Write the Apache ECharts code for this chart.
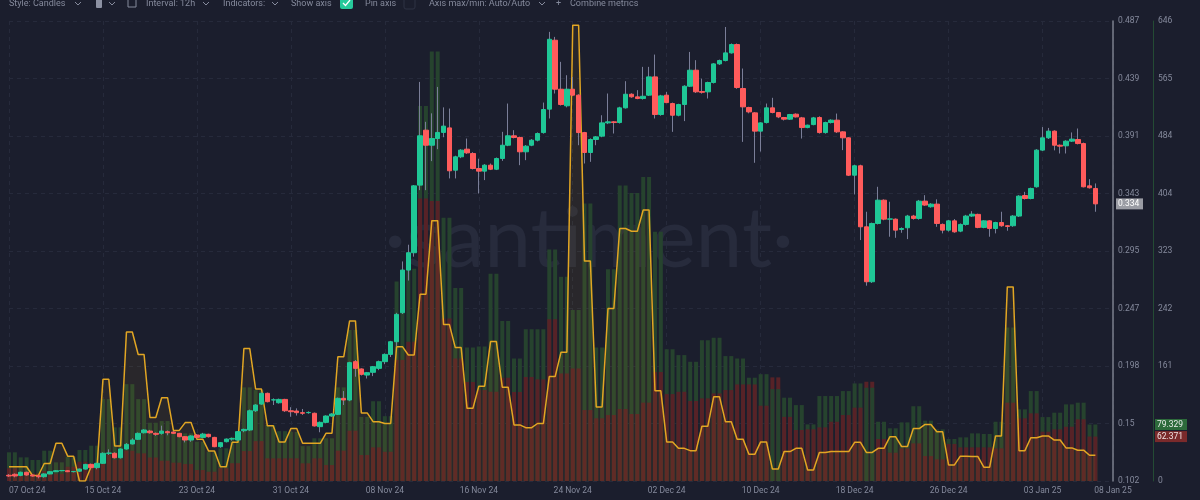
<!DOCTYPE html>
<html>
<head>
<meta charset="utf-8">
<title>Candles 12h</title>
<script src="https://cdn.jsdelivr.net/npm/echarts@6.0.0/dist/echarts.min.js"></script>
<style>
  html, body { margin: 0; padding: 0; background: #1b1e2d; }
  #chart { width: 1200px; height: 500px; }
</style>
</head>
<body>
<div id="chart"></div>
<script>
// x axis: 12h slots starting 07 Oct 24 00:00, ticks every 8 days
const slotCount = 189;
const tickIdx = [0, 16, 32, 48, 64, 80, 96, 112, 128, 144, 160, 176, 188];
const tickText = ['07 Oct 24', '15 Oct 24', '23 Oct 24', '31 Oct 24', '08 Nov 24', '16 Nov 24',
  '24 Nov 24', '02 Dec 24', '10 Dec 24', '18 Dec 24', '26 Dec 24', '03 Jan 25', '08 Jan 25'];

// price candles, one per 12h
const open = [
  0.1070, 0.1078, 0.1069, 0.1095, 0.1072, 0.1066, 0.1058, 0.1081, 0.1100, 0.1108,
  0.1108, 0.1100, 0.1104, 0.1122, 0.1161, 0.1134, 0.1170, 0.1254, 0.1254, 0.1217,
  0.1290, 0.1332, 0.1371, 0.1426, 0.1440, 0.1421, 0.1421, 0.1435, 0.1432, 0.1421,
  0.1393, 0.1365, 0.1407, 0.1387, 0.1413, 0.1387, 0.1309, 0.1351, 0.1373, 0.1365,
  0.1443, 0.1449, 0.1610, 0.1666, 0.1756, 0.1700, 0.1677, 0.1705, 0.1610, 0.1608,
  0.1594, 0.1594, 0.1589, 0.1477, 0.1513, 0.1566, 0.1580, 0.1714, 0.1700, 0.2021,
  0.1960, 0.1909, 0.1932, 0.1965, 0.2021, 0.2082, 0.2188, 0.2431, 0.2788, 0.2933,
  0.3499, 0.3959, 0.3833, 0.3889, 0.3940, 0.3978, 0.3624, 0.3736, 0.3800, 0.3764,
  0.3638, 0.3616, 0.3666, 0.3632, 0.3722, 0.3833, 0.3912, 0.3898, 0.3778, 0.3833,
  0.3875, 0.3939, 0.4135, 0.4712, 0.4302, 0.4163, 0.4302, 0.4252, 0.3939, 0.3772,
  0.3881, 0.3909, 0.4020, 0.4029, 0.4023, 0.4146, 0.4260, 0.4238, 0.4224, 0.4252,
  0.4405, 0.4090, 0.4252, 0.4182, 0.4084, 0.4174, 0.4327, 0.4461, 0.4283, 0.4280,
  0.4358, 0.4514, 0.4542, 0.4606, 0.4676, 0.4308, 0.4149, 0.4104, 0.3951, 0.4023,
  0.4146, 0.4107, 0.4065, 0.4051, 0.4093, 0.4062, 0.3981, 0.4006, 0.4065, 0.3939,
  0.4023, 0.4043, 0.3945, 0.3895, 0.3582, 0.3661, 0.3150, 0.2690, 0.3178, 0.3373,
  0.3214, 0.3214, 0.3128, 0.3142, 0.3240, 0.3220, 0.3365, 0.3318, 0.3340, 0.3170,
  0.3122, 0.3200, 0.3114, 0.3170, 0.3240, 0.3254, 0.3145, 0.3200, 0.3136, 0.3186,
  0.3159, 0.3159, 0.3240, 0.3412, 0.3387, 0.3485, 0.3792, 0.3895, 0.3951, 0.3833,
  0.3828, 0.3867, 0.3881, 0.3847, 0.3493, 0.3471
];
const close = [
  0.1064, 0.1064, 0.1095, 0.1072, 0.1064, 0.1058, 0.1081, 0.1100, 0.1108, 0.1110,
  0.1100, 0.1102, 0.1122, 0.1161, 0.1134, 0.1170, 0.1254, 0.1256, 0.1217, 0.1290,
  0.1329, 0.1365, 0.1421, 0.1449, 0.1426, 0.1413, 0.1440, 0.1426, 0.1421, 0.1393,
  0.1365, 0.1399, 0.1387, 0.1415, 0.1393, 0.1309, 0.1343, 0.1373, 0.1377, 0.1435,
  0.1454, 0.1610, 0.1658, 0.1756, 0.1686, 0.1702, 0.1705, 0.1610, 0.1602, 0.1594,
  0.1589, 0.1596, 0.1483, 0.1513, 0.1566, 0.1583, 0.1714, 0.1700, 0.2013, 0.1965,
  0.1915, 0.1929, 0.1979, 0.2021, 0.2082, 0.2188, 0.2417, 0.2788, 0.2933, 0.3493,
  0.3912, 0.3833, 0.3889, 0.3940, 0.3993, 0.3619, 0.3736, 0.3792, 0.3769, 0.3638,
  0.3616, 0.3666, 0.3632, 0.3722, 0.3833, 0.3912, 0.3898, 0.3778, 0.3825, 0.3875,
  0.3931, 0.4132, 0.4720, 0.4302, 0.4174, 0.4302, 0.4252, 0.3939, 0.3772, 0.3881,
  0.3903, 0.4020, 0.4029, 0.4023, 0.4146, 0.4260, 0.4238, 0.4224, 0.4243, 0.4405,
  0.4090, 0.4246, 0.4190, 0.4084, 0.4174, 0.4327, 0.4461, 0.4280, 0.4276, 0.4358,
  0.4514, 0.4542, 0.4606, 0.4676, 0.4316, 0.4154, 0.4112, 0.3951, 0.4020, 0.4146,
  0.4107, 0.4070, 0.4051, 0.4090, 0.4070, 0.3981, 0.4001, 0.4062, 0.3939, 0.4023,
  0.4043, 0.3945, 0.3895, 0.3582, 0.3661, 0.3150, 0.2690, 0.3178, 0.3373, 0.3214,
  0.3216, 0.3122, 0.3136, 0.3240, 0.3220, 0.3365, 0.3332, 0.3340, 0.3178, 0.3122,
  0.3200, 0.3108, 0.3170, 0.3240, 0.3256, 0.3145, 0.3200, 0.3136, 0.3186, 0.3159,
  0.3153, 0.3240, 0.3407, 0.3387, 0.3471, 0.3792, 0.3895, 0.3951, 0.3833, 0.3825,
  0.3867, 0.3884, 0.3847, 0.3485, 0.3477, 0.3342
];
const low = [
  0.1055, 0.1053, 0.1062, 0.1066, 0.1058, 0.1044, 0.1050, 0.1078, 0.1097, 0.1104,
  0.1096, 0.1094, 0.1098, 0.1118, 0.1128, 0.1120, 0.1165, 0.1240, 0.1210, 0.1210,
  0.1285, 0.1328, 0.1365, 0.1420, 0.1418, 0.1400, 0.1410, 0.1405, 0.1415, 0.1388,
  0.1345, 0.1350, 0.1380, 0.1380, 0.1385, 0.1305, 0.1300, 0.1345, 0.1360, 0.1360,
  0.1430, 0.1440, 0.1600, 0.1660, 0.1680, 0.1658, 0.1670, 0.1600, 0.1560, 0.1570,
  0.1575, 0.1585, 0.1478, 0.1430, 0.1505, 0.1560, 0.1575, 0.1658, 0.1690, 0.1895,
  0.1905, 0.1880, 0.1900, 0.1950, 0.2000, 0.2060, 0.2150, 0.2420, 0.2700, 0.2900,
  0.3457, 0.3457, 0.3700, 0.3800, 0.3900, 0.3555, 0.3555, 0.3725, 0.3760, 0.3630,
  0.3429, 0.3541, 0.3625, 0.3625, 0.3702, 0.3825, 0.3890, 0.3666, 0.3708, 0.3825,
  0.3865, 0.3930, 0.4057, 0.4266, 0.4165, 0.4150, 0.4245, 0.3833, 0.3680, 0.3694,
  0.3833, 0.3900, 0.4010, 0.3931, 0.4015, 0.4140, 0.4230, 0.4218, 0.4215, 0.4245,
  0.4057, 0.4080, 0.4185, 0.3945, 0.4075, 0.4035, 0.4320, 0.4270, 0.4265, 0.4224,
  0.4350, 0.4505, 0.4535, 0.4600, 0.4305, 0.3861, 0.4100, 0.3686, 0.3780, 0.4015,
  0.4100, 0.4060, 0.4040, 0.4045, 0.4065, 0.3889, 0.3975, 0.4000, 0.3930, 0.3930,
  0.4015, 0.3935, 0.3792, 0.3575, 0.3421, 0.3039, 0.2657, 0.2680, 0.3170, 0.3205,
  0.3067, 0.3058, 0.3100, 0.3047, 0.3210, 0.3210, 0.3325, 0.3310, 0.3150, 0.3095,
  0.3110, 0.3100, 0.3105, 0.3160, 0.3232, 0.3138, 0.3138, 0.3067, 0.3095, 0.3150,
  0.3117, 0.3150, 0.3232, 0.3378, 0.3380, 0.3478, 0.3785, 0.3885, 0.3790, 0.3764,
  0.3764, 0.3860, 0.3840, 0.3480, 0.3470, 0.3276
];
const high = [
  0.1080, 0.1086, 0.1100, 0.1100, 0.1078, 0.1070, 0.1086, 0.1104, 0.1112, 0.1114,
  0.1112, 0.1106, 0.1126, 0.1166, 0.1168, 0.1175, 0.1262, 0.1287, 0.1262, 0.1295,
  0.1340, 0.1380, 0.1428, 0.1456, 0.1450, 0.1428, 0.1485, 0.1445, 0.1440, 0.1425,
  0.1398, 0.1405, 0.1415, 0.1425, 0.1418, 0.1392, 0.1348, 0.1378, 0.1385, 0.1440,
  0.1460, 0.1620, 0.1665, 0.1765, 0.1762, 0.1714, 0.1712, 0.1710, 0.1640, 0.1630,
  0.1625, 0.1605, 0.1595, 0.1520, 0.1572, 0.1590, 0.1720, 0.1775, 0.2020, 0.2035,
  0.1965, 0.1935, 0.1985, 0.2030, 0.2090, 0.2195, 0.2430, 0.2860, 0.3000, 0.3500,
  0.4363, 0.4029, 0.4100, 0.4321, 0.4150, 0.4140, 0.3745, 0.3800, 0.3889, 0.3775,
  0.3720, 0.3675, 0.3680, 0.3730, 0.3945, 0.4182, 0.3959, 0.3905, 0.3835, 0.3885,
  0.3940, 0.4190, 0.4782, 0.4740, 0.4531, 0.4419, 0.4405, 0.4260, 0.3945, 0.3890,
  0.3910, 0.4084, 0.4266, 0.4035, 0.4155, 0.4369, 0.4268, 0.4294, 0.4489, 0.4489,
  0.4592, 0.4255, 0.4280, 0.4190, 0.4180, 0.4335, 0.4614, 0.4545, 0.4391, 0.4365,
  0.4520, 0.4550, 0.4823, 0.4685, 0.4685, 0.4475, 0.4155, 0.4110, 0.4025, 0.4182,
  0.4230, 0.4110, 0.4070, 0.4095, 0.4100, 0.4070, 0.4005, 0.4070, 0.4075, 0.4030,
  0.4050, 0.4098, 0.3950, 0.3900, 0.3670, 0.3670, 0.3276, 0.3185, 0.3485, 0.3380,
  0.3360, 0.3220, 0.3145, 0.3250, 0.3250, 0.3375, 0.3415, 0.3348, 0.3380, 0.3178,
  0.3208, 0.3215, 0.3178, 0.3250, 0.3281, 0.3260, 0.3205, 0.3205, 0.3192, 0.3276,
  0.3165, 0.3248, 0.3415, 0.3443, 0.3478, 0.3800, 0.3985, 0.3978, 0.3958, 0.3840,
  0.3875, 0.3940, 0.3973, 0.3855, 0.3549, 0.3513
];

// daily metrics (each day fills two 12h slots)
const greenVol = [
  40.3, 33.2, 29.5, 42.6, 26.2, 34.1, 43.5, 49.6, 115, 75.3,
  136, 115, 81.8, 84.2, 67.8, 66.9, 55.2, 41.2, 45.9, 62,
  131.5, 127.7, 78.6, 70, 69, 49, 60, 60, 131.5, 212,
  90, 112, 91, 280, 298, 526.6, 603, 369.5, 271, 187.6,
  189, 291, 224.5, 172, 213, 213, 325, 286.7, 240, 389.6,
  187.6, 297.5, 415, 404.5, 427, 350, 185, 176.8, 167.4, 197.8,
  201, 175.4, 172, 145, 150, 129, 117, 106.6, 79.5, 119.3,
  119.3, 126.3, 137, 131, 83.2, 74, 82.3, 105, 84.7, 72.5,
  59, 61.3, 66.9, 66, 83.2, 215.6, 100.6, 126.3, 89.8, 95.9,
  107.6, 110, 79.329
];
const redVol = [
  17.8, 7, 10.8, 14, 10, 20, 27, 25, 36.5, 30,
  42.5, 38.8, 33, 28.5, 25.7, 23.8, 15.4, 13, 18, 25,
  42, 56, 31.8, 31.8, 31.8, 24.8, 31.8, 22.4, 42.6, 70.6,
  36.5, 47.2, 41, 170, 195.5, 396.7, 393, 228, 172, 139,
  127.7, 125.3, 145, 125, 146, 142.7, 227, 151, 158, 99.6,
  88, 92.6, 101, 94, 110, 153, 122, 125.3, 112.3, 116,
  123, 127.7, 135.6, 135.6, 105.7, 145.5, 90, 71.6, 72.5, 75.3,
  83.2, 92.6, 103, 139.4, 59, 39.7, 45.8, 52.8, 35, 30.4,
  52, 47.2, 47.2, 47.2, 45.8, 110, 88, 95, 69.2, 72.5,
  76.2, 86.6, 62.371
];
// third metric, hidden scale 0..100
const yellowLine = [
  3.1, 3.1, 1.2, 3.8, 8.2, 5.4, 0, 3.2, 22.1, 7.6,
  32.4, 27.5, 13.8, 18.1, 11, 12.7, 9.1, 6.5, 3.1, 8.4,
  28.8, 20, 12, 8.5, 11.4, 8.2, 8.2, 10.4, 27, 34.8,
  14.8, 12.9, 12.5, 29.2, 27.4, 40.6, 56.6, 34, 29, 15.8,
  20.6, 30.3, 20.4, 12.2, 11.6, 12.5, 22.7, 28, 99.1, 47.8,
  16.1, 37.5, 54.9, 54.3, 58.9, 19.6, 8.5, 7.1, 6.6, 11.9,
  18.3, 12.9, 9.1, 5.8, 8.5, 2.6, 6.4, 7.1, 2.4, 6.2,
  6.4, 6.4, 8.4, 6.2, 7.1, 9.6, 7.5, 11.4, 12.3, 10.7,
  3.5, 5.4, 5.3, 3, 9.8, 42.2, 6.6, 9.4, 9.8, 8.9,
  7.2, 6.7, 5.6
];

const UP = '#1fc796';
const DOWN = '#ff5b5b';
const WICK = '#7a7e98';
const BAR_G = '#26432e';
const BAR_R = '#572227';
const TXT = '#858a9c';
const FONT = 'Roboto, "Open Sans", sans-serif';

const priceMin = 0.1022, priceMax = 0.4873;
const volMax = 645.9;

let cats = [];
for (let i = 0; i < slotCount; i++) cats.push(String(i));

// bars: the taller of the two sits behind, the shorter in front
let backBars = [], frontBars = [], yellowSlots = [], wicks = [], bodies = [];
for (let i = 0; i < open.length; i++) {
  let d = i >> 1;
  let g = greenVol[d], r = redVol[d];
  if (g >= r) {
    backBars.push({ value: g, itemStyle: { color: BAR_G } });
    frontBars.push({ value: r, itemStyle: { color: BAR_R } });
  } else {
    backBars.push({ value: r, itemStyle: { color: BAR_R } });
    frontBars.push({ value: g, itemStyle: { color: BAR_G } });
  }
  yellowSlots.push(yellowLine[d]);
  wicks.push([low[i], high[i], low[i], high[i]]);
  bodies.push([open[i], close[i], Math.min(open[i], close[i]), Math.max(open[i], close[i])]);
}

const showTick = (idx) => tickIdx.indexOf(idx) >= 0;

let chart = echarts.init(document.getElementById('chart'));
chart.setOption({
  backgroundColor: '#1b1e2d',
  animation: false,
  grid: { left: 9, right: 87, top: 21, bottom: 19, outerBoundsMode: 'none' },
  xAxis: {
    type: 'category',
    data: cats,
    boundaryGap: false,
    axisLine: { show: false },
    axisTick: { show: false },
    axisLabel: {
      interval: (idx) => showTick(idx),
      formatter: (val, idx) => tickText[tickIdx.indexOf(Number(val))],
      color: TXT,
      fontSize: 8.5,
      fontFamily: FONT,
      margin: 5,
      alignMinLabel: 'left'
    },
    splitLine: {
      show: true,
      interval: (idx) => showTick(idx),
      lineStyle: { color: '#262a3b', type: [4, 4], width: 1 }
    }
  },
  yAxis: [
    {
      type: 'value',
      position: 'right',
      min: priceMin,
      max: priceMax,
      interval: (priceMax - priceMin) / 8,
      axisLine: { show: true, lineStyle: { color: '#7b7f8c', width: 1.5 } },
      axisTick: { show: false },
      axisLabel: {
        color: TXT, fontSize: 8.5, fontFamily: FONT, margin: 5,
        formatter: (v) => String(parseFloat(v.toFixed(3)))
      },
      splitLine: { show: true, lineStyle: { color: '#262a3b', type: [4, 4], width: 1 } }
    },
    {
      type: 'value',
      position: 'right',
      offset: 40,
      min: 0,
      max: volMax,
      interval: volMax / 8,
      axisLine: { show: true, lineStyle: { color: '#244b34', width: 1 } },
      axisTick: { show: false },
      axisLabel: {
        color: TXT, fontSize: 8.5, fontFamily: FONT, margin: 5,
        formatter: (v) => String(Math.round(v))
      },
      splitLine: { show: false }
    },
    { type: 'value', show: false, min: 0, max: 100 }
  ],
  series: [
    {
      name: 'back', type: 'bar', yAxisIndex: 1, barWidth: 4, barGap: '-100%',
      data: backBars, z: 1, silent: true
    },
    {
      name: 'front', type: 'bar', yAxisIndex: 1, barWidth: 4, barGap: '-100%',
      data: frontBars, z: 1, silent: true
    },
    {
      name: 'metric', type: 'line', yAxisIndex: 2, data: yellowSlots,
      symbol: 'none', z: 2, silent: true,
      lineStyle: { color: '#e2a623', width: 1.5 },
      areaStyle: { color: 'rgba(226,166,35,0.10)' }
    },
    {
      name: 'wicks', type: 'candlestick', yAxisIndex: 0, data: wicks, barWidth: 0.5, z: 3,
      itemStyle: { color: WICK, color0: WICK, borderColor: WICK, borderColor0: WICK, borderWidth: 1 }
    },
    {
      name: 'price', type: 'candlestick', yAxisIndex: 0, data: bodies, barWidth: 5, z: 4,
      itemStyle: { color: UP, color0: DOWN, borderColor: UP, borderColor0: DOWN, borderWidth: 1 }
    }
  ]
});

// tags on the axes and the toolbar text, placed after the axes exist
const lastIdx = open.length - 1;
const lastPrice = close[lastIdx];
const lastDay = greenVol.length - 1;
const yPrice = chart.convertToPixel({ yAxisIndex: 0 }, lastPrice);
const yGreen = chart.convertToPixel({ yAxisIndex: 1 }, greenVol[lastDay]);
const yRed = chart.convertToPixel({ yAxisIndex: 1 }, redVol[lastDay]);

function tag(x, y, w, bg, fg, text) {
  return [
    { type: 'rect', shape: { x: x, y: y - 5.5, width: w, height: 11 }, style: { fill: bg }, z: 100 },
    { type: 'text', x: x + 2, y: y, style: { text: text, fill: fg, font: '8.5px ' + FONT, textAlign: 'left', textVerticalAlign: 'middle' }, z: 101 }
  ];
}
function label(x, text) {
  return { type: 'text', x: x, y: 3.5, style: { text: text, fill: TXT, font: '9px ' + FONT, textAlign: 'left', textVerticalAlign: 'middle' }, z: 100 };
}
function chevron(x) {
  return { type: 'polyline', shape: { points: [[x - 3, 2], [x, 5], [x + 3, 2]] }, style: { stroke: TXT, lineWidth: 1, fill: null }, z: 100 };
}

let graphics = [
  { type: 'text', x: 589, y: 240, style: { text: '·santiment·', fill: '#272b3c', font: '400 84px Lato, ' + FONT, textAlign: 'center', textVerticalAlign: 'middle' }, z: 0 },
  label(9, 'Style: Candles'), chevron(78),
  { type: 'rect', shape: { x: 96, y: -3, width: 6, height: 11, r: 1 }, style: { fill: '#8c91a2' }, z: 100 },
  chevron(112),
  { type: 'rect', shape: { x: 128, y: -3, width: 8, height: 10 }, style: { stroke: TXT, fill: null, lineWidth: 1 }, z: 100 },
  label(146, 'Interval: 12h'), chevron(206),
  label(223, 'Indicators:'), chevron(275),
  label(291, 'Show axis'),
  { type: 'rect', shape: { x: 340, y: -3, width: 13, height: 12, r: 2 }, style: { fill: '#26c99a' }, z: 100 },
  { type: 'polyline', shape: { points: [[343, 3], [345.5, 5.5], [350, 0]] }, style: { stroke: '#ffffff', lineWidth: 1.3, fill: null }, z: 101 },
  label(365, 'Pin axis'),
  { type: 'rect', shape: { x: 404, y: -3, width: 11, height: 12, r: 2 }, style: { stroke: '#2e3244', fill: null, lineWidth: 1 }, z: 100 },
  label(429, 'Axis max/min: Auto/Auto'), chevron(542),
  label(556, '+'),
  label(570, 'Combine metrics')
];
graphics = graphics.concat(
  tag(1116, yPrice, 27, '#9a9ca4', '#ffffff', lastPrice.toFixed(3)),
  tag(1155, yGreen, 32, '#2d6a3b', '#e6ece7', greenVol[lastDay].toFixed(3)),
  tag(1155, yRed, 32, '#7a2a2b', '#f0e2e2', redVol[lastDay].toFixed(3))
);
chart.setOption({ graphic: graphics });

window.addEventListener('resize', () => {
  chart.resize();
});
</script>
</body>
</html>
